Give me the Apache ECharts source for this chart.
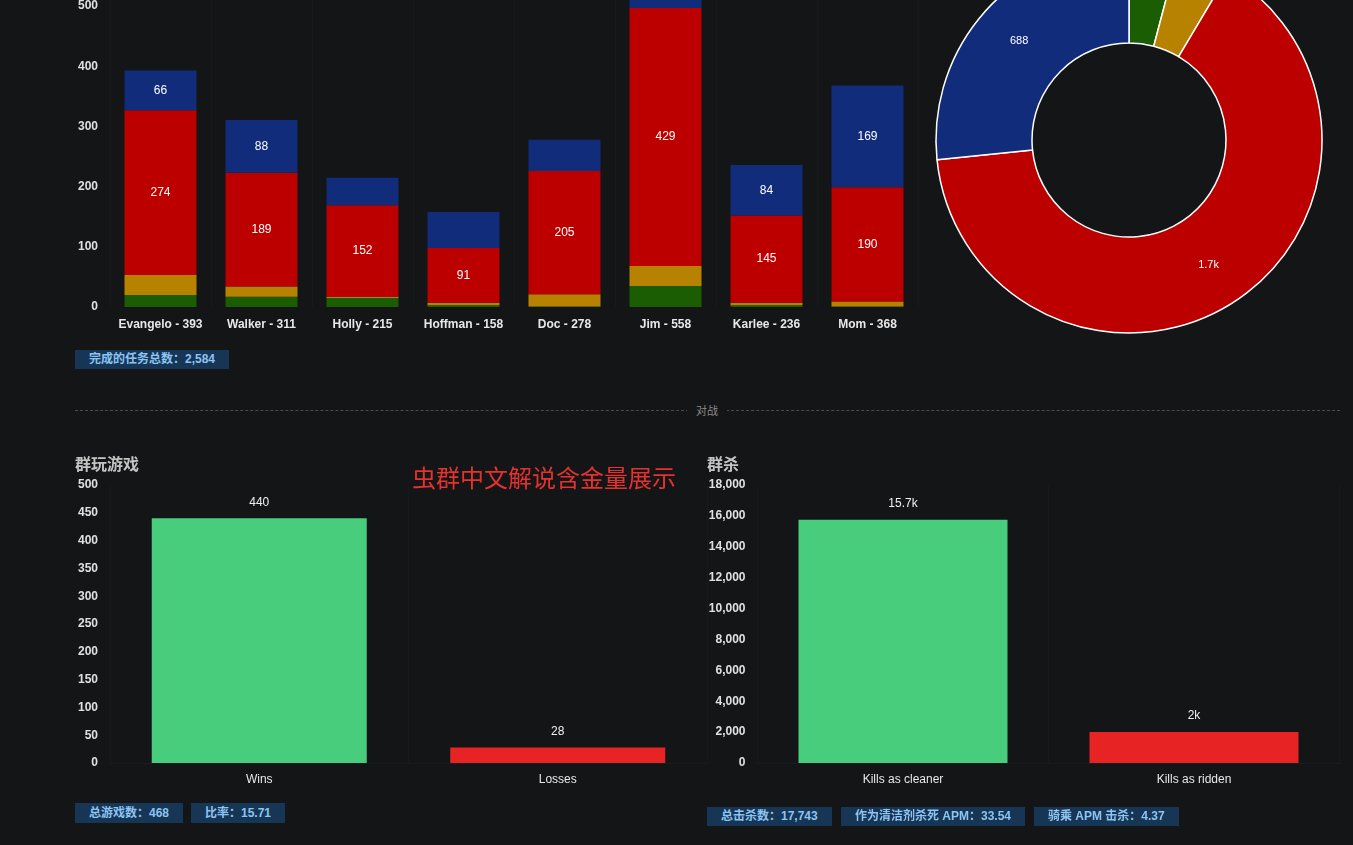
<!DOCTYPE html>
<html><head><meta charset="utf-8">
<script src="https://cdn.jsdelivr.net/npm/echarts@6/dist/echarts.min.js"></script>
<style>
html,body{margin:0;padding:0;background:#141517;width:1353px;height:845px;overflow:hidden;font-family:"Liberation Sans","Noto Sans CJK SC",sans-serif;}
#c{position:absolute;left:0;top:-100px;width:1353px;height:945px;}
.badge{position:absolute;height:19px;line-height:19px;padding:0 14px 0 14px;background:#173656;color:#8cc4f2;font-size:12px;font-weight:bold;font-family:"Liberation Sans","Noto Sans CJK SC",sans-serif;white-space:nowrap;}
.title{position:absolute;color:#c4c4c4;font-size:16px;font-weight:bold;font-family:"Noto Sans CJK SC",sans-serif;}
#div{position:absolute;left:75px;top:410px;width:1265px;border-top:1px dashed #4a4b4e;}
#divt{position:absolute;left:687px;top:402px;width:40px;text-align:center;background:#141517;color:#8a8a8a;font-size:11px;font-family:"Noto Sans CJK SC",sans-serif;line-height:16px;}
#wm{position:absolute;left:412px;top:461px;color:#e5322e;font-size:24px;line-height:32px;font-family:"Noto Sans CJK SC",sans-serif;}
</style></head>
<body>
<div id="c"></div>
<div class="badge" style="left:75px;top:350px;">完成的任务总数：2,584</div>
<div id="div"></div><div id="divt">对战</div>
<div class="title" style="left:75px;top:451px;">群玩游戏</div>
<div class="title" style="left:707px;top:451px;">群杀</div>
<div id="wm">虫群中文解说含金量展示</div>
<div class="badge" style="left:75px;top:803px;height:20px;line-height:20px;">总游戏数：468</div>
<div class="badge" style="left:191px;top:803px;height:20px;line-height:20px;">比率：15.71</div>
<div class="badge" style="left:707px;top:807px;height:19px;">总击杀数：17,743</div>
<div class="badge" style="left:841px;top:807px;height:19px;">作为清洁剂杀死 APM：33.54</div>
<div class="badge" style="left:1034px;top:807px;height:19px;">骑乘 APM 击杀：4.37</div>
<script>
// ---- data ----
const characters = ['Evangelo','Walker','Holly','Hoffman','Doc','Jim','Karlee','Mom'];
const greenVals  = [20, 17, 15, 3, 1, 35, 3, 1];
const yellowVals = [33, 17, 2, 4, 20, 33, 4, 8];
const redVals    = [274, 189, 152, 91, 205, 429, 145, 190];
const blueVals   = [66, 88, 46, 60, 52, 61, 84, 169];
const pieNames   = ['green','yellow','red','blue'];
const pieVals    = [106, 115, 1675, 688];
const gameCats   = ['Wins','Losses'];
const gameVals   = [440, 28];
const killCats   = ['Kills as cleaner','Kills as ridden'];
const killVals   = [15743, 2000];

const C = {green:'#1a5d03', yellow:'#b78200', red:'#bc0000', blue:'#112c7b'};
const totals = characters.map((n,i)=>greenVals[i]+yellowVals[i]+redVals[i]+blueVals[i]);
const catLabels = characters.map((n,i)=>n+' - '+totals[i]);
function kfmt(v){ if(v>=1000){ let s=(v/1000).toFixed(1); if(s.endsWith('.0')) s=s.slice(0,-2); return s+'k'; } return String(v); }

const axisLabelY = {color:'#e0e0e0', fontSize:12, fontWeight:'bold', fontFamily:'Liberation Sans', margin:12};
const faintSplit = {show:true, lineStyle:{color:'#18191c', width:1}};

function stackSeries(name, vals, color){
  return {type:'bar', name, stack:'t', xAxisIndex:0, yAxisIndex:0, data:vals, barWidth:72,
    itemStyle:{color}, label:{show:true, position:'inside', color:'#fff', fontSize:12, fontFamily:'Liberation Sans',
    formatter:p=> p.value>=65 ? p.value : ''}};
}

const chart = echarts.init(document.getElementById('c'), null, {renderer:'canvas'});
chart.setOption({
  backgroundColor:'transparent',
  animation:false,
  grid:[
    {left:110, width:808, top:46, height:361},
    {left:110, width:597, top:585, height:278},
    {left:757.5, width:582, top:585, height:278}
  ],
  xAxis:[
    {type:'category', gridIndex:0, data:catLabels, axisLine:{show:false}, axisTick:{show:false},
     splitLine:faintSplit, axisLabel:{interval:0, color:'#e8e8e8', fontSize:12, fontWeight:'bold', fontFamily:'Liberation Sans', margin:12}},
    {type:'category', gridIndex:1, data:gameCats, axisLine:{show:true, lineStyle:{color:'#1b1c1f'}}, axisTick:{show:false},
     splitLine:faintSplit, axisLabel:{interval:0, color:'#e8e8e8', fontSize:12, fontFamily:'Liberation Sans', margin:11}},
    {type:'category', gridIndex:2, data:killCats, axisLine:{show:true, lineStyle:{color:'#1b1c1f'}}, axisTick:{show:false},
     splitLine:faintSplit, axisLabel:{interval:0, color:'#e8e8e8', fontSize:12, fontFamily:'Liberation Sans', margin:11}}
  ],
  yAxis:[
    {type:'value', gridIndex:0, min:0, max:600, interval:100, splitLine:{show:false}, axisLine:{show:false}, axisLabel:axisLabelY},
    {type:'value', gridIndex:1, min:0, max:500, interval:50, splitLine:{show:false}, axisLine:{show:false}, axisLabel:axisLabelY},
    {type:'value', gridIndex:2, min:0, max:18000, interval:2000, splitLine:{show:false}, axisLine:{show:false},
     axisLabel:Object.assign({}, axisLabelY, {formatter:v=>v.toLocaleString('en-US')})}
  ],
  series:[
    stackSeries('green', greenVals, C.green),
    stackSeries('yellow', yellowVals, C.yellow),
    stackSeries('red', redVals, C.red),
    stackSeries('blue', blueVals, C.blue),
    {type:'pie', center:[1129,240], radius:[97,193], startAngle:90, clockwise:true,
     minShowLabelAngle:20, avoidLabelOverlap:false,
     itemStyle:{borderColor:'#ffffff', borderWidth:1.5},
     label:{show:true, position:'inside', color:'#fff', fontSize:11, fontFamily:'Liberation Sans', formatter:p=>kfmt(p.value)},
     labelLine:{show:false},
     data:pieNames.map((n,i)=>({name:n, value:pieVals[i], itemStyle:{color:C[n]}}))},
    {type:'bar', xAxisIndex:1, yAxisIndex:1, barWidth:215,
     data:gameVals.map((v,i)=>({value:v, itemStyle:{color: i===0?'#47cd7b':'#e82323'}})),
     label:{show:true, position:'top', distance:10, color:'#f0f0f0', fontSize:12, fontFamily:'Liberation Sans', formatter:p=>kfmt(p.value)}},
    {type:'bar', xAxisIndex:2, yAxisIndex:2, barWidth:209,
     data:killVals.map((v,i)=>({value:v, itemStyle:{color: i===0?'#47cd7b':'#e82323'}})),
     label:{show:true, position:'top', distance:10, color:'#f0f0f0', fontSize:12, fontFamily:'Liberation Sans', formatter:p=>kfmt(p.value)}}
  ]
});
</script>
</body></html>
